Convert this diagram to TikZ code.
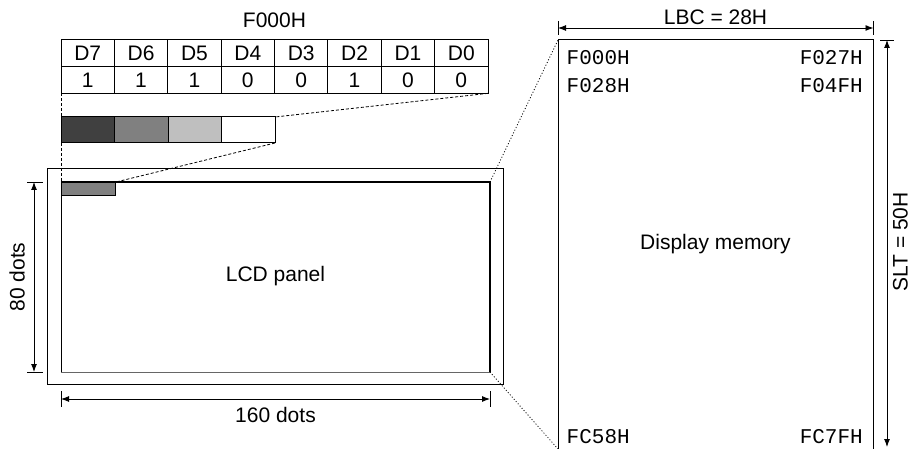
\documentclass[tikz,border=0pt]{standalone}
\usepackage{fontspec}
\setmainfont{Liberation Sans}
\newfontfamily\monofnt{Liberation Mono}
\usetikzlibrary{arrows.meta}
\begin{document}
\begin{tikzpicture}[x=1pt,y=-1pt,
  every node/.style={font=\fontsize{21}{24}\selectfont},
  cell/.style={draw=black,line width=1pt,minimum width=53.375pt,minimum height=26.67pt,inner sep=0pt,outer sep=0pt},
  shade/.style={draw=black,line width=1pt,minimum width=53.5pt,minimum height=26pt,inner sep=0pt,outer sep=0pt},
  addr/.style={font=\monofnt\fontsize{21}{24}\selectfont,inner sep=0pt},
  dimline/.style={line width=0.9pt,{Latex[length=8pt,width=6pt]}-{Latex[length=8pt,width=6pt]}},
  tick/.style={line width=0.9pt},
  zoomdash/.style={line width=0.8pt,dash pattern=on 3pt off 2pt},
  zoomdot/.style={line width=0.8pt,dash pattern=on 1pt off 2pt}]
\useasboundingbox (0,0) rectangle (911,449);

% bit table
\node (title) at (274.5,20) {F000H};
\foreach \lab [count=\i] in {D7,D6,D5,D4,D3,D2,D1,D0}
  \node[cell] (d\i) at ({61+(\i-0.5)*53.375},53.33) {\lab};
\foreach \val [count=\i] in {1,1,1,0,0,1,0,0}
  \node[cell] (v\i) at ({61+(\i-0.5)*53.375},80) {\val};

% gray-scale bar
\node[shade,fill=black!75] (g1) at (87.75,130) {};
\node[shade,fill=black!50] (g2) at (141.25,130) {};
\node[shade,fill=black!25] (g3) at (194.75,130) {};
\node[shade,fill=white] (g4) at (248.25,130) {};

% LCD panel
\coordinate (oTL) at (47.5,169);
\coordinate (oBR) at (503.5,384.5);
\coordinate (iTL) at (61,182);
\coordinate (iTR) at (490,182);
\coordinate (iBL) at (61,372);
\coordinate (iBR) at (490,372);
\draw[line width=1pt] (oTL) rectangle (oBR);
\draw[line width=1pt] (iTR) -- (iTL) -- (iBL);
\draw[line width=1pt,black!60] (iBL) -- (iBR);
\draw[line width=2pt] (iTL) -- (iTR) -- (iBR);
\node[draw=black,line width=1pt,fill=black!50,minimum width=54pt,minimum height=13pt,inner sep=0pt,anchor=north west] (px) at (iTL) {};
\node (lcd) at (275.5,276) {LCD panel};

% zoom lines
\draw[zoomdash] (v1.south west) -- (g1.north west);
\draw[zoomdash] (g1.south west) -- (iTL);
\draw[zoomdash] (v8.south east) -- (g4.north east);
\draw[zoomdash] (g4.south east) -- (px.north east);

% dimensions of LCD
\coordinate (h1) at (34,182);
\coordinate (h2) at (34,372);
\draw[tick] (27,182) -- (43,182);
\draw[tick] (27,372) -- (43,372);
\draw[dimline] (h1) -- (h2);
\node[rotate=90,inner sep=0pt] (dots80) at (17,277) {80 dots};
\coordinate (w1) at (61,399);
\coordinate (w2) at (490,399);
\draw[tick] (61,391) -- (61,407);
\draw[tick] (490,391) -- (490,407);
\draw[dimline] (w1) -- (w2);
\node (dots160) at (275.5,415) {160 dots};

% display memory
\coordinate (mTL) at (558,40);
\coordinate (mTR) at (873.5,40);
\coordinate (mBL) at (558,449);
\coordinate (mBR) at (873.5,449);
\draw[line width=1pt] (mBL) -- (mTL) -- (mTR) -- (mBR);
\node (mem) at (715.5,244) {Display memory};
\node[addr,anchor=west] (a1) at (566.5,58) {F000H};
\node[addr,anchor=east] (a2) at (863,58) {F027H};
\node[addr,anchor=west] (a3) at (566.5,86) {F028H};
\node[addr,anchor=east] (a4) at (863,86) {F04FH};
\node[addr,anchor=west] (a5) at (566.5,436.5) {FC58H};
\node[addr,anchor=east] (a6) at (863,436.5) {FC7FH};

\draw[zoomdot] (iTR) -- (mTL);
\draw[zoomdot] (iBR) -- (mBL);

% memory dimensions
\coordinate (l1) at (558,28);
\coordinate (l2) at (873.5,28);
\draw[tick] (558,21) -- (558,35);
\draw[tick] (873.5,21) -- (873.5,35);
\draw[dimline] (l1) -- (l2);
\node (lbc) at (715.5,17) {LBC = 28H};
\coordinate (s1) at (887,40);
\coordinate (s2) at (887,447);
\draw[tick] (880,40) -- (894,40);
\draw[dimline] (s1) -- (s2);
\node[rotate=90,inner sep=0pt] (slt) at (900.5,242) {SLT = 50H};
\end{tikzpicture}
\end{document}
